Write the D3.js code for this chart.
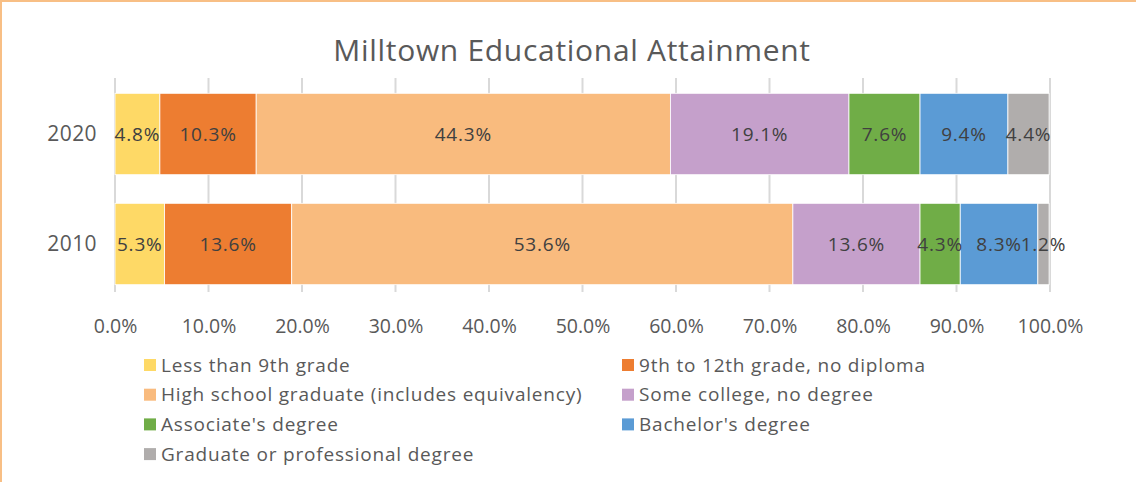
<!DOCTYPE html>
<html>
<head>
<meta charset="utf-8">
<script src="https://cdn.jsdelivr.net/npm/d3@7"></script>
<style>
  body { margin: 0; background: #fff; }
  svg { display: block; font-family: "Open Sans", "Noto Sans", sans-serif; }
</style>
</head>
<body>
<svg id="chart" width="1136" height="482"></svg>
<script>
const years = ["2020", "2010"];
const categories = [
  "Less than 9th grade",
  "9th to 12th grade, no diploma",
  "High school graduate (includes equivalency)",
  "Some college, no degree",
  "Associate's degree",
  "Bachelor's degree",
  "Graduate or professional degree"
];
const values2020 = [4.8, 10.3, 44.3, 19.1, 7.6, 9.4, 4.4];
const values2010 = [5.3, 13.6, 53.6, 13.6, 4.3, 8.3, 1.2];
const colors = ["#fed966", "#ed7d31", "#f9bb7e", "#c5a0cb", "#70ad47", "#5b9bd5", "#b0adac"];
const ticks = [0, 10, 20, 30, 40, 50, 60, 70, 80, 90, 100];

const seriesByYear = { "2020": values2020, "2010": values2010 };
const fontFam = "'Open Sans', 'Noto Sans', sans-serif";

const svg = d3.select("#chart");

// frame border (top and left)
svg.append("line").attr("x1", 0).attr("x2", 1136).attr("y1", 1).attr("y2", 1)
  .attr("stroke", "#f8bf85").attr("stroke-width", 2);
svg.append("line").attr("x1", 1).attr("x2", 1).attr("y1", 0).attr("y2", 482)
  .attr("stroke", "#f8bf85").attr("stroke-width", 2);

svg.append("text")
  .attr("x", 572).attr("y", 61)
  .attr("text-anchor", "middle")
  .style("font-size", "30px")
  .style("letter-spacing", "0.7px")
  .style("fill", "#595959")
  .text("Milltown Educational Attainment");

const x = d3.scaleLinear().domain([0, 100]).range([115, 1050]);
const y = d3.scaleBand().domain(years).range([79, 299]).paddingInner(0.26).paddingOuter(0.13);

// gridlines
svg.append("g").selectAll("line").data(ticks).join("line")
  .attr("x1", d => x(d)).attr("x2", d => x(d))
  .attr("y1", 78).attr("y2", 292)
  .attr("stroke", "#d9d9d9").attr("stroke-width", 2);

// x axis labels
const xAxis = d3.axisBottom(x).tickValues(ticks).tickSize(0).tickPadding(0)
  .tickFormat(d => d.toFixed(1) + "%");
const gx = svg.append("g").attr("transform", "translate(0,319)").call(xAxis);
gx.select(".domain").remove();
gx.selectAll("text").style("font-size", "19.5px").style("fill", "#595959")
  .style("font-family", fontFam);

// y axis labels
const yAxis = d3.axisLeft(y).tickSize(0).tickPadding(18);
const gy = svg.append("g").attr("transform", "translate(115,0)").call(yAxis);
gy.select(".domain").remove();
gy.selectAll("text").style("font-size", "21px").style("fill", "#595959")
  .style("letter-spacing", "0.4px")
  .style("font-family", fontFam);

// stacked bars
years.forEach(yr => {
  const vals = seriesByYear[yr];
  let acc = 0;
  const segs = vals.map((v, i) => {
    const s = { start: acc, end: acc + v, v: v, i: i };
    acc += v;
    return s;
  });
  const g = svg.append("g");
  g.selectAll("rect").data(segs).join("rect")
    .attr("x", d => x(d.start))
    .attr("width", d => x(d.end) - x(d.start))
    .attr("y", y(yr))
    .attr("height", y.bandwidth())
    .attr("fill", d => colors[d.i])
    .attr("stroke", "#fff").attr("stroke-width", 0.8);
  g.selectAll("text").data(segs).join("text")
    .attr("x", d => (x(d.start) + x(d.end)) / 2)
    .attr("y", y(yr) + y.bandwidth() / 2)
    .attr("dy", "0.35em")
    .attr("text-anchor", "middle")
    .style("font-size", "19px")
    .style("letter-spacing", "0.8px")
    .style("fill", "#404040")
    .text(d => d.v.toFixed(1) + "%");
});

// legend
const legend = svg.append("g");
categories.forEach((c, i) => {
  const col = i % 2, row = Math.floor(i / 2);
  const lx = col === 0 ? 144 : 622;
  const ly = 365 + row * 29.7;
  legend.append("rect").attr("x", lx).attr("y", ly - 6).attr("width", 12).attr("height", 12)
    .attr("fill", colors[i]);
  legend.append("text").attr("x", lx + 17).attr("y", ly).attr("dy", "0.35em")
    .style("font-size", "19px").style("letter-spacing", "0.8px")
    .style("fill", "#595959").text(c);
});
</script>
</body>
</html>
